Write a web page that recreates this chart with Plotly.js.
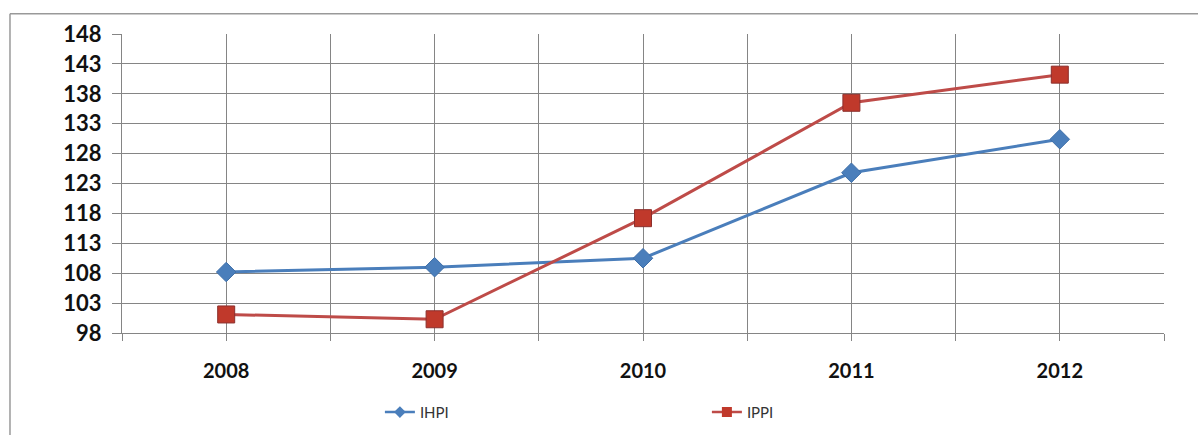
<!DOCTYPE html>
<html>
<head>
<meta charset="utf-8">
<script src="https://cdn.plot.ly/plotly-3.0.1.min.js"></script>
<style>html,body{margin:0;padding:0;background:#fff;}#chart{width:1198px;height:435px;}</style>
</head>
<body>
<div id="chart"></div>
<script>
const years = [2008, 2009, 2010, 2011, 2012];
const yearLabels = ["2008", "2009", "2010", "2011", "2012"];
const ihpi = [108.2, 109.0, 110.5, 124.8, 130.4];
const ippi = [101.1, 100.3, 117.2, 136.5, 141.2];
const yTicks = [98, 103, 108, 113, 118, 123, 128, 133, 138, 143, 148];

const blue = "#4A7EBB", red = "#BE4B48";
const traces = [
  {
    x: years, y: ihpi, name: "IHPI", type: "scatter", mode: "lines+markers", showlegend: false,
    line: {color: blue, width: 3},
    marker: {symbol: "diamond", size: 15, color: blue, line: {color: "#3f6fa8", width: 1}}
  },
  {
    x: years, y: ippi, name: "IPPI", type: "scatter", mode: "lines+markers", showlegend: false,
    line: {color: red, width: 3},
    marker: {symbol: "square", size: 17, color: "#C0392B", line: {color: "#8c2f2c", width: 1}}
  },
  {
    x: [null], y: [null], name: "IHPI", type: "scatter", mode: "lines+markers",
    line: {color: blue, width: 2.5},
    marker: {symbol: "diamond", size: 9, color: blue}
  },
  {
    x: [null], y: [null], name: "IPPI", type: "scatter", mode: "lines+markers",
    line: {color: red, width: 2.5},
    marker: {symbol: "square", size: 10, color: "#C0392B"}
  }
];

const grid = "#858585";
const layout = {
  width: 1198, height: 435,
  margin: {l: 122, r: 34, t: 34, b: 102},
  paper_bgcolor: "#fff", plot_bgcolor: "#fff",
  font: {family: "Lato, 'Liberation Sans', sans-serif", color: "#000"},
  showlegend: true,
  legend: {
    orientation: "h", x: 0.2475, xanchor: "left",
    yref: "container", y: 0.09, yanchor: "top",
    entrywidth: 282, entrywidthmode: "pixels",
    font: {size: 15, color: "#333"}
  },
  xaxis: {
    range: [2007.5, 2012.5], tickvals: years, ticktext: yearLabels, automargin: false,
    showgrid: true, gridcolor: grid, gridwidth: 1,
    ticks: "", showline: true, linecolor: grid, zeroline: false,
    tickfont: {size: 20, family: "Lato, sans-serif", weight: "bold", color: "#111"},
    ticklabelstandoff: 20,
    minor: {tick0: 2007.5, dtick: 0.5, showgrid: true, gridcolor: grid, gridwidth: 1,
            ticks: "outside", ticklen: 7, tickcolor: grid, tickwidth: 1}
  },
  yaxis: {
    range: [98, 148], tickvals: yTicks, ticktext: yTicks.map(String), automargin: false,
    showgrid: true, gridcolor: grid, gridwidth: 1,
    ticks: "outside", ticklen: 9, tickcolor: grid,
    showline: true, linecolor: grid, zeroline: false,
    ticklabelstandoff: 6,
    tickfont: {size: 22, family: "Lato, sans-serif", weight: "bold", color: "#111"}
  },
  shapes: [
    {type: "line", xref: "paper", yref: "paper", x0: -0.1075, x1: 1.04, y0: 1.068, y1: 1.068,
     line: {color: "#999", width: 1.5}},
    {type: "line", xref: "paper", yref: "paper", x0: -0.1075, x1: -0.1075, y0: 1.068, y1: -0.35,
     line: {color: "#999", width: 1.5}}
  ]
};

Plotly.newPlot("chart", traces, layout, {displayModeBar: false, staticPlot: true});
</script>
</body>
</html>
